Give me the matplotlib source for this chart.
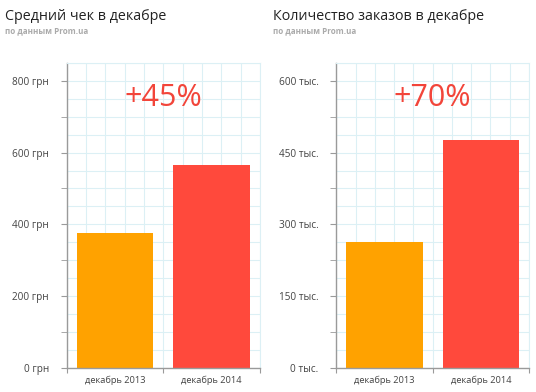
import numpy as np
import matplotlib
matplotlib.use("Agg")
import matplotlib.pyplot as plt
from matplotlib.ticker import FixedLocator

plt.rcParams['font.family'] = ['Open Sans', 'DejaVu Sans']

categories = ["декабрь 2013", "декабрь 2014"]
avg_check = [375, 566]
orders = [262, 476]
titles = ["Средний чек в декабре", "Количество заказов в декабре"]
subtitle = "по данным Prom.ua"
growth = ["+45%", "+70%"]
left_ticks = [0, 200, 400, 600, 800]
left_labels = ["0 грн", "200 грн", "400 грн", "600 грн", "800 грн"]
right_ticks = [0, 150, 300, 450, 600]
right_labels = ["0 тыс.", "150 тыс.", "300 тыс.", "450 тыс.", "600 тыс."]

bar_colors = ["#FFA200", "#FF493C"]
axis_col = "#9a9a9a"
grid_col = "#dcf0f5"
text_col = "#444444"

fig = plt.figure(figsize=(5.36, 3.92), dpi=100)

def panel(rect, values, ticks, labels, ymax, step, title, tx, growth_txt):
    ax = fig.add_axes(rect)
    x = np.arange(len(values))
    ax.set_xlim(-0.5, len(values) - 0.5)
    ax.set_ylim(0, ymax)
    for gx in np.arange(-0.5, len(values) - 0.5 + 1e-9, 0.2):
        ax.axvline(gx, color=grid_col, lw=0.8, zorder=0)
    for gy in np.arange(0, ymax + 1e-9, step / 4):
        ax.axhline(gy, color=grid_col, lw=0.8, zorder=0)
    ax.bar(x, values, width=0.79, color=bar_colors, zorder=2)
    ax.set_yticks(ticks)
    ax.set_yticklabels(labels)
    ax.yaxis.set_minor_locator(FixedLocator([t + step / 2 for t in ticks[:-1]]))
    ax.tick_params(axis='y', which='both', length=4.3, color=axis_col, labelsize=7.2,
                   labelcolor=text_col, pad=8.5)
    ax.set_xticks(np.arange(-0.5, len(values)), minor=False)
    ax.set_xticklabels([])
    ax.set_xticks(x, minor=True)
    ax.set_xticklabels(categories, minor=True)
    ax.tick_params(axis='x', which='major', length=3.6, color=axis_col)
    ax.tick_params(axis='x', which='minor', length=0, labelsize=6.7,
                   labelcolor=text_col, pad=5.5)
    for s in ['left', 'bottom']:
        ax.spines[s].set_color(axis_col)
        ax.spines[s].set_linewidth(1.0)
    for s in ['top', 'right']:
        ax.spines[s].set_color(grid_col)
        ax.spines[s].set_linewidth(0.8)
    ax.set_axisbelow(True)
    ax.text(0.5, 0.885, growth_txt, transform=ax.transAxes, ha='center', va='center',
            fontsize=22, color="#F2453A")
    fig.text(tx, 1 - 17 / 392, title, ha='left', va='center', fontsize=10.3, color="#222222")
    fig.text(tx, 1 - 31 / 392, subtitle, ha='left', va='center', fontsize=5.8,
             color="#aaaaaa", fontweight='bold')
    return ax

panel([66.7 / 536, 24.3 / 392, 193.3 / 536, 304.7 / 392], avg_check, left_ticks,
      left_labels, 850, 200, titles[0], 5 / 536, growth[0])
panel([336.3 / 536, 24.3 / 392, 192.7 / 536, 304.7 / 392], orders, right_ticks,
      right_labels, 637.5, 150, titles[1], 273 / 536, growth[1])

fig.savefig("out.png", dpi=100)
